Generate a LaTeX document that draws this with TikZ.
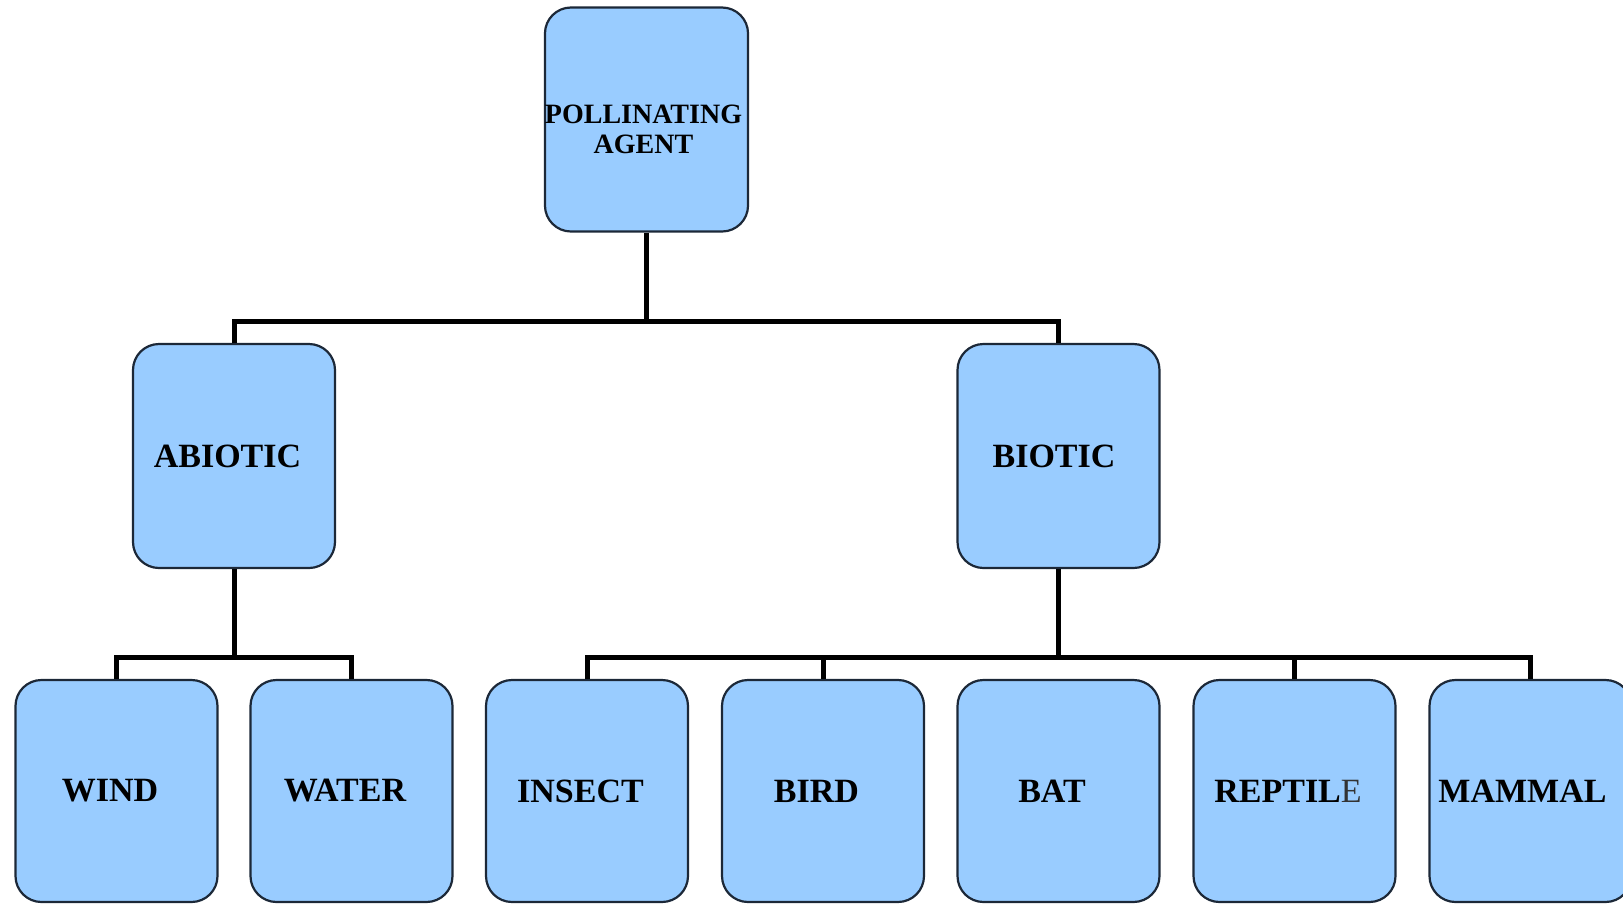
\documentclass[tikz,border=0pt]{standalone}
\usepackage{fontspec}
\setmainfont{Liberation Serif}
\definecolor{boxfill}{HTML}{99CCFF}
\definecolor{boxline}{HTML}{1C2838}
\newcommand{\lsh}{\hspace*{13pt}}
\begin{document}
\begin{tikzpicture}[x=1pt,y=-1pt,
  box/.style={draw=boxline, line width=2.2pt, fill=boxfill, rounded corners=26pt,
    minimum width=202pt, minimum height=224pt, inner sep=0pt, align=center,
    font=\fontsize{34}{40}\selectfont\bfseries},
  leaf/.style={box, minimum height=222pt},
  link/.style={line width=5pt, black, line join=miter}]
\useasboundingbox (0,0) rectangle (1623,903);
\fill[white] (0,0) rectangle (1623,903);
\node[box, font=\fontsize{28}{30}\selectfont\bfseries] (top) at (646.5,119.5)
  {POLLINATING\rule{0pt}{38pt}\hspace*{6pt}\\AGENT\hspace*{6pt}};
\node[box] (abiotic) at (234,456) {ABIOTIC\lsh};
\node[box] (biotic) at (1058.5,456) {BIOTIC\hspace*{9pt}};
\node[leaf] (wind) at (116.5,791) {WIND\lsh};
\node[leaf] (water) at (351.5,791) {WATER\lsh};
\node[leaf] (insect) at (587,791) {INSECT\lsh};
\node[leaf] (bird) at (823,791) {BIRD\lsh};
\node[leaf] (bat) at (1058.5,791) {BAT\lsh};
\node[leaf] (reptile) at (1294.5,791) {REPTIL{\mdseries\color{black!80}E}\lsh};
\node[leaf] (mammal) at (1530.5,791) {MAMMAL\hspace*{16pt}};
\coordinate (b1) at (646.5,321);
\coordinate (b2) at (234,657);
\coordinate (b3) at (1058.5,657);
\draw[link] (top.south) -- (b1);
\draw[link] (abiotic.north) |- (b1) -| (biotic.north);
\draw[link] (abiotic.south) -- (b2);
\draw[link] (wind.north) |- (b2) -| (water.north);
\draw[link] (biotic.south) -- (b3);
\draw[link] (insect.north) |- (b3) -| (mammal.north);
\draw[link] (bird.north) -- (bird.north |- b3);
\draw[link] (reptile.north) -- (reptile.north |- b3);
\end{tikzpicture}
\end{document}
